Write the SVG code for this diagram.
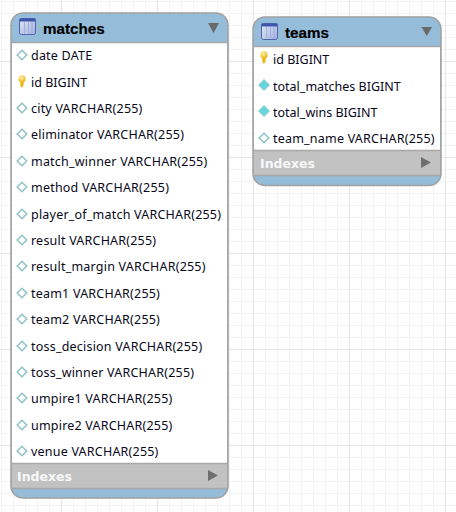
<svg xmlns="http://www.w3.org/2000/svg" width="456" height="512" viewBox="0 0 456 512">
<style>
.t{font:12.5px "Noto Sans",sans-serif;letter-spacing:.21px;fill:#08081a}
.n{letter-spacing:0}
.h{font:bold 15.200px "Liberation Sans",sans-serif;fill:#000;stroke:#000;stroke-width:.2}
.x{font:bold 12.5px "DejaVu Sans",sans-serif;fill:#f8f8f8}
.b{fill:#95bdd9}.g{fill:#c2c2c2}.o{fill:none;stroke:#a0a0a0;stroke-width:1.5}
.s{stroke:#a8a8a8;stroke-width:1.5;fill:none}
</style>
<defs>
<pattern id="minor" width="12" height="12" patternUnits="userSpaceOnUse" x="1" y="1"><path d="M.5 0V12M0 .5H12" fill="none" stroke="#f3f3f3"/></pattern>
<pattern id="major" width="96" height="96" patternUnits="userSpaceOnUse" x="61" y="61"><path d="M.5 0V96M0 .5H96" fill="none" stroke="#e6e6e6"/></pattern>
<linearGradient id="ig" x1="0" y1="0" x2="1" y2="1"><stop offset="0" stop-color="#e4e8f6"/><stop offset="1" stop-color="#9fb0da"/></linearGradient>
<radialGradient id="kg" cx=".4" cy=".35" r=".7"><stop offset="0" stop-color="#fff3a0"/><stop offset="1" stop-color="#e8b010"/></radialGradient>
<g id="tbl"><rect x="0.500" y="0.500" width="16" height="16" rx="2" fill="url(#ig)" stroke="#4f62ad"/><rect x="0.500" y="0.500" width="16" height="3" fill="#3f55ac"/><path d="M5.500 4V15M9.500 4V15M13 4V15" stroke="#9bb0dc" fill="none"/></g>
<path id="dia" d="M0-4.800 4.800 0 0 4.800-4.800 0Z" fill="#fff" stroke="#8fc4c6" stroke-width="1.500"/>
<path id="dif" d="M0-5.500 5.500 0 0 5.500-5.500 0Z" fill="#66d6de" stroke="#9cc6c8"/>
<g id="key"><ellipse cx="0" cy="-3" rx="3.600" ry="3.800" fill="url(#kg)"/><path d="M-1.700-1H1.700V3L0 6-1.700 4Z" fill="#eeb81c"/></g>
</defs>
<rect width="456" height="512" fill="#fff"/>
<rect width="456" height="512" fill="url(#minor)"/>
<rect width="456" height="512" fill="url(#major)"/>
<g id="connectors"/>
<g id="matches">
<rect class="b" x="11" y="13" width="217" height="485" rx="12"/>
<rect x="12" y="43" width="215" height="420" fill="#fff"/>
<rect class="g" x="12" y="464" width="215" height="25"/>
<path class="s" d="M11.500 42.500H227M11.500 463.500H227M11.500 488.500H227"/>
<rect class="o" x="11" y="13" width="217" height="485" rx="12"/>
<use href="#tbl" x="19" y="18"/>
<text class="h" x="43" y="34">matches</text>
<path d="M208 23H219L213.500 33Z" fill="#6a6a6a"/>
<use href="#dia" x="22" y="55"/><text class="t" x="31" y="60">date DATE</text>
<use href="#key" x="22" y="82"/><text class="t n" x="31" y="87">id BIGINT</text>
<use href="#dia" x="22" y="108"/><text class="t" x="31" y="113">city VARCHAR(255)</text>
<use href="#dia" x="22" y="134"/><text class="t" x="31" y="139">eliminator VARCHAR(255)</text>
<use href="#dia" x="22" y="161"/><text class="t" x="31" y="166">match_winner VARCHAR(255)</text>
<use href="#dia" x="22" y="187"/><text class="t" x="31" y="192">method VARCHAR(255)</text>
<use href="#dia" x="22" y="214"/><text class="t" x="31" y="219">player_of_match VARCHAR(255)</text>
<use href="#dia" x="22" y="240"/><text class="t" x="31" y="245">result VARCHAR(255)</text>
<use href="#dia" x="22" y="266"/><text class="t" x="31" y="271">result_margin VARCHAR(255)</text>
<use href="#dia" x="22" y="293"/><text class="t" x="31" y="298">team1 VARCHAR(255)</text>
<use href="#dia" x="22" y="319"/><text class="t" x="31" y="324">team2 VARCHAR(255)</text>
<use href="#dia" x="22" y="346"/><text class="t" x="31" y="351">toss_decision VARCHAR(255)</text>
<use href="#dia" x="22" y="372"/><text class="t" x="31" y="377">toss_winner VARCHAR(255)</text>
<use href="#dia" x="22" y="398"/><text class="t" x="31" y="403">umpire1 VARCHAR(255)</text>
<use href="#dia" x="22" y="425"/><text class="t" x="31" y="430">umpire2 VARCHAR(255)</text>
<use href="#dia" x="22" y="451"/><text class="t" x="31" y="456">venue VARCHAR(255)</text>
<text class="x" x="17" y="481">Indexes</text>
<path d="M208 470 218 475.500 208 481Z" fill="#6f6f6f"/>
</g>
<g id="teams">
<rect class="b" x="253" y="17" width="188" height="168.500" rx="12"/>
<rect x="254" y="47" width="186" height="104" fill="#fff"/>
<rect class="g" x="254" y="151" width="186" height="25"/>
<path class="s" d="M253.500 46.500H440M253.500 150.500H440M253.500 175.500H440"/>
<rect class="o" x="253" y="17" width="188" height="168.500" rx="12"/>
<use href="#tbl" x="261" y="23"/>
<text class="h" x="285" y="38">teams</text>
<path d="M421.500 27H432L426.800 36Z" fill="#6a6a6a"/>
<use href="#key" x="264" y="58"/><text class="t n" x="273" y="64">id BIGINT</text>
<use href="#dif" x="264" y="85"/><text class="t n" x="273" y="91">total_matches BIGINT</text>
<use href="#dif" x="264" y="111"/><text class="t n" x="273" y="117">total_wins BIGINT</text>
<use href="#dia" x="264" y="138"/><text class="t" x="273" y="143">team_name VARCHAR(255)</text>
<text class="x" x="260" y="168">Indexes</text>
<path d="M421 157 431 162.500 421 168Z" fill="#6f6f6f"/>
</g>
</svg>
